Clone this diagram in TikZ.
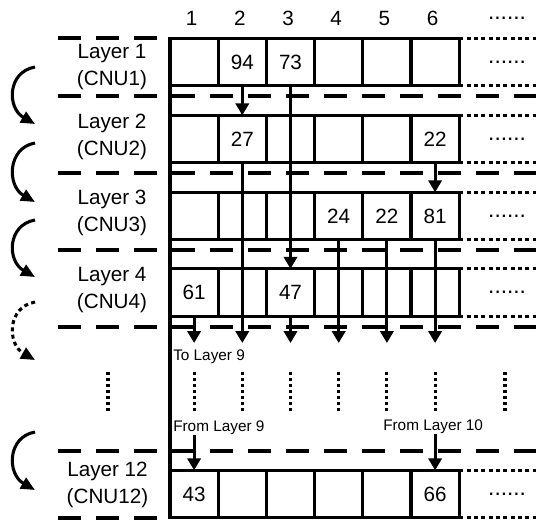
\documentclass[tikz,border=0pt]{standalone}
\usepackage{fontspec}
\setmainfont{Liberation Sans}
\usepackage{tikz}
\usetikzlibrary{positioning,calc}
\usetikzlibrary{arrows.meta}
\tikzset{
  cell/.style={draw=black,line width=2.3pt,minimum width=36.15pt,minimum height=35.6pt,
    inner sep=0pt,outer sep=0pt},
  val/.style={inner sep=0pt,font=\fontsize{15.5}{18}\selectfont},
  lab/.style={align=center,inner sep=0pt,font=\fontsize{15.5}{20}\selectfont},
  note/.style={anchor=west,inner sep=0pt,font=\fontsize{11.5}{13}\selectfont},
  more/.style={inner sep=0pt,font=\fontsize{17}{17}\selectfont},
  sep/.style={line width=2.6pt,dash pattern=on 17pt off 11.5pt},
  ext/.style={line width=2.3pt,dash pattern=on 3pt off 2.5pt},
  vdots/.style={line width=2.3pt,dash pattern=on 2.2pt off 2.3pt},
  pass/.style={line width=2.3pt,-{Triangle[length=9pt,width=10pt]}},
  turn/.style={line width=2.3pt,-{Triangle[length=10.5pt,width=9pt]}},
  skipturn/.style={dash pattern=on 3pt off 2.5pt},
}

\begin{document}
\begin{tikzpicture}[x=0.75pt,y=-0.75pt]
\useasboundingbox (0,0) rectangle (536,519);
% layer rows
\foreach \rw/\yy in {1/62,2/139,3/216,4/292.5,12/494}
  \foreach \cl in {1,...,6}
    \node[cell] (r\rw c\cl) at ({170+48.2*(\cl-0.5)},\yy) {};
\foreach \rw/\cl/\vv in {1/2/94,1/3/73,2/2/27,2/6/22,3/4/24,3/5/22,3/6/81,
    4/1/61,4/3/47,12/1/43,12/6/66}
  \node[val] (v\rw-\cl) at (r\rw c\cl) {\vv};
\foreach \rw in {1,2,3,4,12} {
  \draw[ext] (r\rw c6.north east) -- ++(80,0);
  \draw[ext] (r\rw c6.south east) -- ++(80,0);
  \node[more] (m\rw) at ($(r\rw c6)+(72,0)$) {......};
}
\draw[line width=2.3pt] (r1c1.north west) -- (r12c1.south west);
% column numbers
\foreach \cl in {1,...,6}
  \node[lab] (h\cl) at ($(r1c\cl.north)+(-2.5,-20)$) {\cl};
\node[more] (hm) at (507,18) {......};
% layer borders
\draw[sep] (58,38) -- (163,38);
\foreach \yy in {96,173,250,327,451}
  \draw[sep] (58,\yy) -- (536,\yy);
\draw[sep] (58,518) -- (163,518);
% layer names
\node[lab] (l1) at (112,67) {Layer 1\\(CNU1)};
\node[lab] (l2) at (112,137) {Layer 2\\(CNU2)};
\node[lab] (l3) at (112,213) {Layer 3\\(CNU3)};
\node[lab] (l4) at (112,290) {Layer 4\\(CNU4)};
\node[lab] (l12) at (107.5,485) {Layer 12\\(CNU12)};
% order of layers
\foreach \k/\ys/\ye/\how in {1/67/124/solid,2/143/202/solid,3/220/277/solid,
    4/302/360/skipturn,12/432/490/solid} {
  \coordinate (s\k) at (35,\ys);
  \coordinate (e\k) at (35,\ye);
  \draw[turn,\how] (s\k) .. controls ($(s\k)+(-28,5)$) and ($(e\k)+(-28,-16)$) .. (e\k);
}
% messages between layers
\coordinate (low) at (0,343);
\draw[pass] (r1c2.south) -- (r2c2.north);
\draw[pass] (r1c3.south) -- (r4c3.north);
\draw[pass] (r2c6.south) -- (r3c6.north);
\draw[pass] (r2c2.south) -- (r2c2.south |- low);
\foreach \cl in {4,5,6}
  \draw[pass] (r3c\cl.south) -- (r3c\cl.south |- low);
\foreach \cl in {1,3}
  \draw[pass] (r4c\cl.south) -- (r4c\cl.south |- low);
\node[note] (to9) at (173,357) {To Layer 9};
\node[note] (from9) at (173,428) {From Layer 9};
\node[note] (from10) at (383,427) {From Layer 10};
\draw[pass] (from9.south -| r12c1) -- (r12c1.north);
\draw[pass] (from10.south -| r12c6) -- (r12c6.north);
% skipped layers
\coordinate (dtop) at (0,372);
\coordinate (dbot) at (0,412);
\foreach \cl in {1,...,6}
  \draw[vdots] (r4c\cl |- dtop) -- (r4c\cl |- dbot);
\draw[vdots] (108,372) -- (108,412);
\draw[vdots] (505,372) -- (505,412);
\end{tikzpicture}
\end{document}
